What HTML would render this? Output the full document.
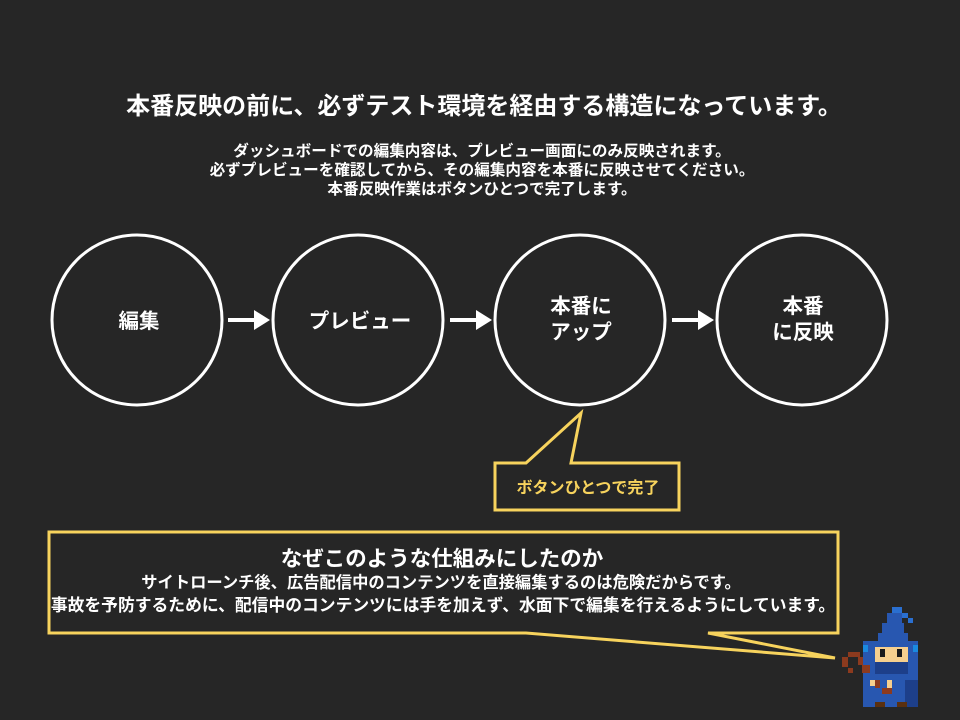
<!DOCTYPE html>
<html><head><meta charset="utf-8"><style>
body{margin:0;background:#262626;}
svg{display:block}
text{font-family:"Liberation Sans","Noto Sans CJK JP",sans-serif;font-weight:bold;fill:#fff;text-anchor:middle}
</style></head><body>
<svg width="960" height="720" viewBox="0 0 960 720">
<rect width="960" height="720" fill="#262626"/>
<text x="484" y="114" font-size="24">本番反映の前に、必ずテスト環境を経由する構造になっています。</text>
<text x="482" y="156" font-size="15.6">ダッシュボードでの編集内容は、プレビュー画面にのみ反映されます。</text>
<text x="482" y="175" font-size="15.6">必ずプレビューを確認してから、その編集内容を本番に反映させてください。</text>
<text x="482" y="194" font-size="15.6">本番反映作業はボタンひとつで完了します。</text>
<g fill="none" stroke="#fff" stroke-width="3">
<circle cx="137" cy="320" r="85"/><circle cx="358" cy="320" r="85"/>
<circle cx="580" cy="320" r="85"/><circle cx="802" cy="320" r="85"/>
</g>
<g stroke="#fff" stroke-width="4"><line x1="228" y1="320" x2="256" y2="320"/><line x1="450" y1="320" x2="478" y2="320"/><line x1="672" y1="320" x2="700" y2="320"/></g>
<g fill="#fff"><polygon points="254,310 270,320 254,330"/><polygon points="476,310 492,320 476,330"/><polygon points="698,310 714,320 698,330"/></g>
<text x="139" y="328" font-size="20.5">編集</text>
<text x="360" y="328" font-size="20.5">プレビュー</text>
<text x="581" y="313" font-size="20.5">本番に</text>
<text x="581" y="339" font-size="20.5">アップ</text>
<text x="803" y="313" font-size="20.5">本番</text>
<text x="803" y="339" font-size="20.5">に反映</text>
<path d="M526,463 L581,413 L571,463 L679,463 L679,510 L495,510 L495,463 Z" fill="#262626" stroke="#f7d35d" stroke-width="3"/>
<text x="588" y="493" font-size="16" style="fill:#f7d35d">ボタンひとつで完了</text>
<path d="M49,532 L838,532 L838,633 L708,633 L835,658 L526,633 L49,633 Z" fill="#262626" stroke="#f7d35d" stroke-width="3" stroke-linejoin="miter"/>
<text x="442" y="566" font-size="21.5">なぜこのような仕組みにしたのか</text>
<text x="441" y="588" font-size="16.3">サイトローンチ後、広告配信中のコンテンツを直接編集するのは危険だからです。</text>
<text x="443" y="611" font-size="16.8">事故を予防するために、配信中のコンテンツには手を加えず、水面下で編集を行えるようにしています。</text>
<g shape-rendering="crispEdges">
<rect x="892" y="607" width="10" height="6" fill="#2a6fd0"/>
<rect x="902" y="613" width="6" height="5" fill="#2a6fd0"/>
<rect x="908" y="618" width="5" height="5" fill="#2a6fd0"/>
<rect x="887" y="613" width="15" height="10" fill="#2857b0"/>
<rect x="882" y="623" width="22" height="10" fill="#2857b0"/>
<rect x="878" y="633" width="30" height="8" fill="#2857b0"/>
<rect x="863" y="641" width="55" height="66" fill="#2857b0"/>
<rect x="863" y="645" width="5" height="7" fill="#1a8ae0"/>
<rect x="913" y="645" width="5" height="7" fill="#1a8ae0"/>
<rect x="875" y="647" width="33" height="15" fill="#f6cf8e"/>
<rect x="880" y="649" width="5" height="8" fill="#1a1a1a"/>
<rect x="897" y="649" width="5" height="8" fill="#1a1a1a"/>
<rect x="875" y="662" width="33" height="12" fill="#1d3f8a"/>
<rect x="870" y="680" width="5" height="6" fill="#f6cf8e"/>
<rect x="887" y="680" width="5" height="10" fill="#f6cf8e"/>
<rect x="905" y="680" width="13" height="27" fill="#1d3f8a"/>
<rect x="875" y="702" width="10" height="5" fill="#5a3010"/>
<rect x="897" y="702" width="10" height="5" fill="#5a3010"/>
<rect x="848" y="652" width="12" height="5" fill="#8c3a1e"/>
<rect x="842" y="657" width="6" height="10" fill="#8c3a1e"/>
<rect x="858" y="657" width="5" height="8" fill="#8c3a1e"/>
<rect x="862" y="665" width="8" height="8" fill="#8c3a1e"/>
<rect x="848" y="668" width="5" height="5" fill="#8c3a1e"/>
<rect x="875" y="680" width="5" height="8" fill="#8c3a1e"/>
<rect x="882" y="688" width="10" height="6" fill="#8c3a1e"/>
</g>
</svg>
</body></html>
